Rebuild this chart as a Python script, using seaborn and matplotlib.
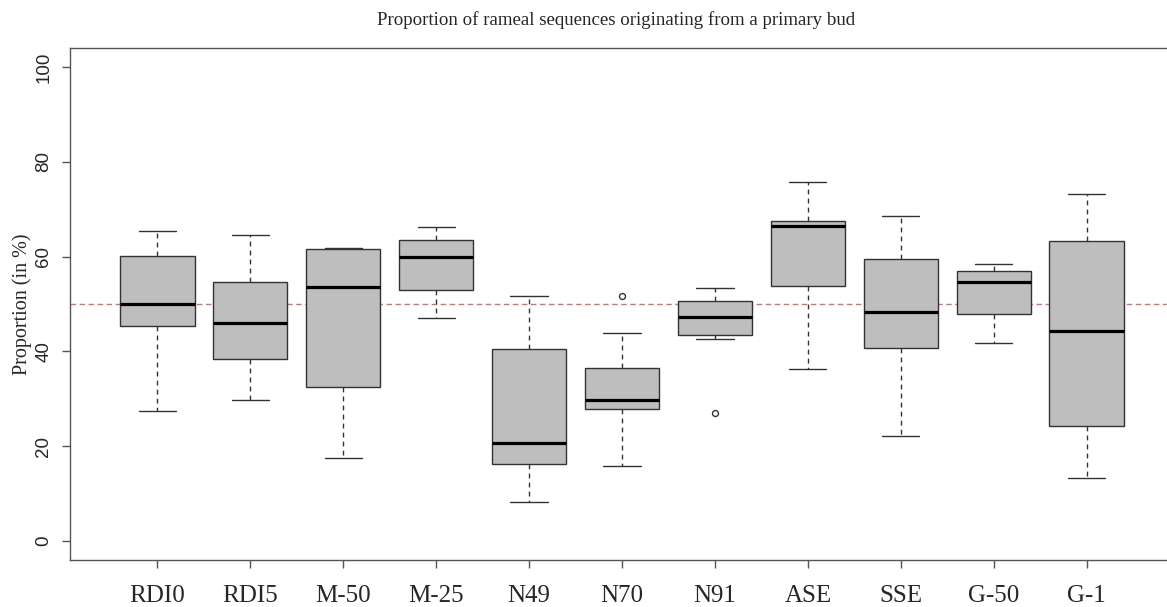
import matplotlib
matplotlib.use("Agg")
import matplotlib.pyplot as plt
import numpy as np
import pandas as pd
import seaborn as sns

# ---- data ----
groups = ["RDI0", "RDI5", "M-50", "M-25", "N49", "N70", "N91", "ASE", "SSE", "G-50", "G-1"]
lower_whisker = [27.4, 29.7, 17.5, 47.0, 8.3, 15.8, 42.6, 36.2, 22.2, 41.7, 13.4]
q1 = [45.3, 38.5, 32.5, 53.0, 16.2, 27.9, 43.4, 53.7, 40.8, 47.9, 24.3]
median = [50.0, 46.0, 53.6, 59.9, 20.7, 29.7, 47.3, 66.5, 48.3, 54.6, 44.4]
q3 = [60.1, 54.6, 61.6, 63.4, 40.6, 36.4, 50.6, 67.6, 59.5, 56.9, 63.2]
upper_whisker = [65.3, 64.6, 61.8, 66.2, 51.7, 43.8, 53.3, 75.7, 68.5, 58.4, 73.1]
outliers = [[], [], [], [], [], [51.6], [27.0], [], [], [], []]
reference_level = 50
y_ticks = [0, 20, 40, 60, 80, 100]
title = "Proportion of rameal sequences originating from a primary bud"
y_label = "Proportion (in %)"

# Build long-form values whose box statistics equal the values read above
rows = []
for g, lo, a, m, b, hi, outs in zip(groups, lower_whisker, q1, median, q3,
                                    upper_whisker, outliers):
    vals = [lo, lo, a, a, m, b, b, hi, hi]
    for o in outs:
        if o < lo:
            vals[0] = o
        else:
            vals[-1] = o
    rows += [(g, v) for v in vals]
df = pd.DataFrame(rows, columns=["group", "value"])

sns.set_style("ticks")
plt.rcParams["font.family"] = ["Liberation Serif", "DejaVu Serif"]

W, H = 1167, 607
fig = plt.figure(figsize=(W / 100, H / 100), dpi=100)
ax = fig.add_axes([70 / W, (H - 560) / H, 1104 / W, 512 / H])

frame = "#555555"
ax.axhline(reference_level, color="#D9706E", linewidth=1.0,
           linestyle=(0, (4, 2.5)), zorder=0.5)

sns.boxplot(
    data=df, x="group", y="value", order=groups, ax=ax,
    color="#BEBEBE", saturation=1, width=0.8, whis=1.5,
    linecolor="#333333", linewidth=1.0, fliersize=4.3,
    medianprops=dict(color="black", linewidth=2.3),
    whiskerprops=dict(linestyle=(0, (3.5, 3)), color="#333333"),
    capprops=dict(color="#333333"),
    flierprops=dict(marker="o", markerfacecolor="none",
                    markeredgecolor="#333333", markeredgewidth=1.0),
)

ax.set_xlim(-0.94, 10.94)
ax.set_ylim(-4, 104)
ax.set_xlabel("")
ax.set_ylabel("")

for s in ax.spines.values():
    s.set_visible(True)
    s.set_color(frame)
    s.set_linewidth(1.0)

ax.set_yticks(y_ticks)
ax.set_yticklabels([str(t) for t in y_ticks], rotation=90, va="center",
                   fontfamily="Liberation Sans", fontsize=13.5)
ax.set_xticks(range(len(groups)))
ax.set_xticklabels(groups, fontfamily="Liberation Serif", fontsize=18)
ax.tick_params(axis="both", length=5.8, width=1.0, color=frame, direction="out")
ax.tick_params(axis="y", pad=7)
ax.tick_params(axis="x", pad=12.5)

fig.text(22 / W, 0.5 * (512 / H) + (H - 560) / H, y_label, rotation=90,
         ha="center", va="center", fontsize=14.5, fontfamily="Liberation Serif")
fig.text(616.5 / W, 1 - 25 / H, title, ha="center", va="baseline",
         fontsize=13.6, fontfamily="Liberation Serif")

fig.savefig("out.png", dpi=100)
